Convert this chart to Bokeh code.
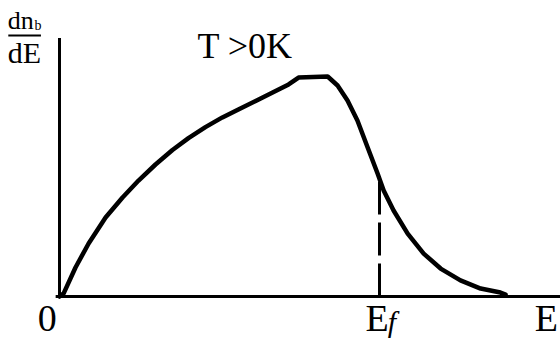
from bokeh.plotting import figure
from bokeh.models import Range1d
from bokeh.embed import file_html
from bokeh.resources import INLINE
from bokeh.core.properties import value

# Energy distribution dn_b/dE at T > 0 K (arbitrary units, Ef = 10)
energy = [0.0, 0.13, 0.5, 0.91, 1.44, 1.97, 2.47, 3.0, 3.53, 4.03, 4.56, 5.09,
          5.59, 6.13, 6.66, 7.16, 7.47, 8.38, 8.69, 9.0, 9.31, 9.63, 9.94,
          10.13, 10.44, 10.88, 11.38, 11.91, 12.53, 13.16, 13.78, 13.94]
density = [0.0, 0.14, 1.32, 2.41, 3.59, 4.5, 5.27, 6.0, 6.66, 7.2, 7.7, 8.14,
           8.5, 8.89, 9.27, 9.64, 9.95, 10.0, 9.59, 8.91, 8.0, 6.77, 5.59,
           4.82, 3.91, 2.86, 1.95, 1.27, 0.73, 0.36, 0.18, 0.09]

fermi_energy = 10.0
fermi_density = 5.2
e_axis_end = 15.7
n_axis_top = 11.75

FONT = value("Liberation Serif")

p = figure(width=560, height=344, output_backend="svg", toolbar_location=None,
           x_range=Range1d(-59 / 32, 501 / 32), y_range=Range1d(-48 / 22, 296 / 22),
           min_border=0, outline_line_color=None, background_fill_color="white",
           border_fill_color="white")
p.axis.visible = False
p.grid.visible = False

# axes
p.line([0, 0], [n_axis_top, -0.05], line_color="black", line_width=3)
p.line([-0.12, e_axis_end], [0, 0], line_color="black", line_width=3)

# curve
p.line(energy, density, line_color="black", line_width=4.5, line_join="round",
       line_cap="round")

# Fermi level marker
p.line([fermi_energy, fermi_energy], [0, fermi_density], line_color="black",
       line_width=3, line_dash="33 8")


def label(x, y, s, size, style="normal"):
    p.text(x=[x], y=[y], text=[s], text_font=FONT, text_font_size=size,
           text_font_style=style, text_align="left", text_baseline="alphabetic",
           text_color="black")


# axis labels
label(-0.68, -1.0, "0", "38px")
label(9.56, -0.98, "E", "38px")
label(10.26, -1.12, "f", "30px", "italic")
label(14.85, -0.98, "E", "38px")
label(4.31, 11.39, "T >0K", "36px")

# dn_b / dE axis title
label(-1.62, 12.55, "dn", "26px")
label(-0.78, 12.3, "b", "14px")
p.line([-1.6, -0.58], [11.86, 11.86], line_color="black", line_width=2)
label(-1.62, 11.11, "dE", "30px")

open("out.html", "w").write(file_html(p, INLINE))
